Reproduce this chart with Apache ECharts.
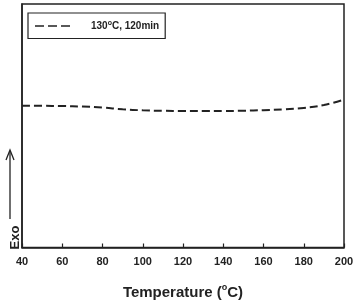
<!DOCTYPE html>
<html>
<head>
<meta charset="utf-8">
<script src="https://cdn.jsdelivr.net/npm/echarts@6/dist/echarts.min.js"></script>
<style>
  html, body { margin: 0; padding: 0; background: #fff; }
  #chart { width: 357px; height: 305px; }
</style>
</head>
<body>
<div id="chart"></div>
<script>
  // temperatures (°C) and the DSC signal (arbitrary units)
  var temps = [40, 50, 60, 70, 80, 90, 100, 110, 120, 130, 140, 150, 160, 170, 180, 190, 200];
  var heatFlow = [146, 146, 145.8, 145.3, 144.2, 142.5, 141.4, 140.9, 140.7, 140.6, 140.7, 141, 141.6, 142.4, 143.8, 146.8, 152.5];
  var xTicks = [40, 60, 80, 100, 120, 140, 160, 180, 200];
  var seriesName = '130°C, 120min';

  var chart = echarts.init(document.getElementById('chart'));

  var pairs = temps.map(function (t, i) { return [t, heatFlow[i]]; });

  var option = {
    animation: false,
    textStyle: { fontFamily: 'Liberation Sans, Arial, sans-serif' },
    grid: {
      left: 22, right: 13, top: 4, bottom: 50,
      show: true, borderColor: '#222', borderWidth: 1.5
    },
    legend: {
      left: 28, top: 13,
      itemWidth: 40, itemHeight: 10, itemGap: 0,
      padding: [7, 6, 7, 6],
      borderColor: '#222', borderWidth: 1.2,
      data: [{ name: seriesName, icon: 'none' }],
      formatter: function () { return '{n|130}{s|o}{n|C, 120min}'; },
      textStyle: {
        padding: [0, 0, 0, 12],
        rich: {
          n: { fontSize: 10, fontWeight: 'bold', color: '#222', letterSpacing: -0.3 },
          s: { fontSize: 7, fontWeight: 'bold', color: '#222', padding: [0, 0, 6, 0] }
        }
      }
    },
    xAxis: {
      type: 'value', min: 40, max: 200, interval: 20,
      name: '{n|Temperature (}{s|o}{n|C)}',
      nameLocation: 'middle', nameGap: 36,
      nameTextStyle: {
        rich: {
          n: { fontSize: 15, fontWeight: 'bold', color: '#222' },
          s: { fontSize: 9, fontWeight: 'bold', color: '#222', padding: [0, 0, 9, 0] }
        }
      },
      axisLine: { lineStyle: { color: '#222', width: 1.5 } },
      axisTick: { inside: true, length: 4, lineStyle: { color: '#222', width: 1.2 } },
      axisLabel: {
        customValues: xTicks,
        fontSize: 11, fontWeight: 'bold', color: '#222', margin: 9
      },
      splitLine: { show: false }
    },
    yAxis: {
      type: 'value', min: 0, max: 251,
      name: 'Exo', nameLocation: 'start', nameRotate: 90, nameGap: 8,
      nameTextStyle: { fontSize: 13, fontWeight: 'bold', color: '#222', align: 'left', verticalAlign: 'bottom', padding: [0, 0, 0, 6] },
      axisLine: { show: true, lineStyle: { color: '#222', width: 1.5 } },
      axisTick: { show: false },
      axisLabel: { show: false },
      splitLine: { show: false }
    },
    graphic: [
      {
        type: 'line', silent: true,
        shape: { x1: 10, y1: 219, x2: 10, y2: 151 },
        style: { stroke: '#222', lineWidth: 1.3 }
      },
      {
        type: 'polyline', silent: true,
        shape: { points: [[6, 160], [10, 150], [14, 160]] },
        style: { stroke: '#222', lineWidth: 1.3, fill: null }
      },
      // legend line sample
      {
        type: 'line', silent: true,
        shape: { x1: 35, y1: 26, x2: 74, y2: 26 },
        style: { stroke: '#222', lineWidth: 1.5, lineDash: [9, 4] }
      }
    ],
    series: [{
      name: seriesName,
      type: 'line',
      data: pairs,
      smooth: 0.4,
      showSymbol: false,
      lineStyle: { color: '#222', width: 2, type: [8, 4] },
      itemStyle: { color: '#222' }
    }]
  };

  chart.setOption(option);
</script>
</body>
</html>
